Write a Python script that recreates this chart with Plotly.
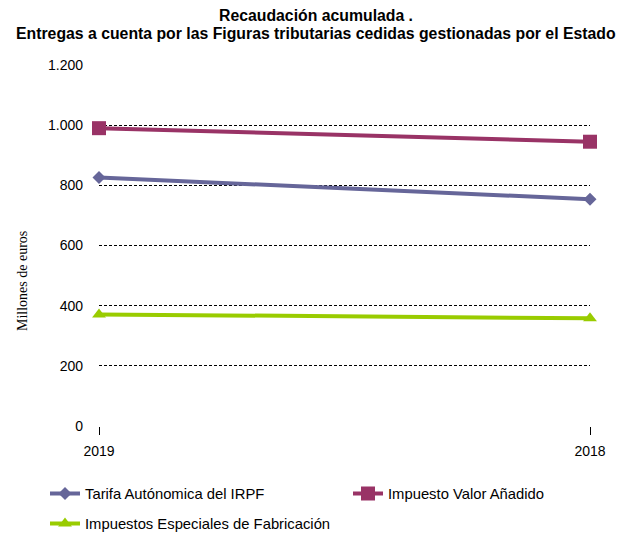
import plotly.graph_objects as go

years = ["2019", "2018"]
irpf = [826, 754]
iva = [990, 945]
ief = [371, 358]
y_ticks = [0, 200, 400, 600, 800, 1000, 1200]

names = ["Tarifa Autónomica del IRPF", "Impuesto Valor Añadido", "Impuestos Especiales de Fabricación"]
colors = ["#666699", "#993366", "#99CC00"]
symbols = ["diamond", "square", "triangle-up"]
sizes = [10, 14, 12]
series = [irpf, iva, ief]
legends = ["legend", "legend2", "legend3"]
title_lines = ["Recaudación acumulada .",
               "Entregas a cuenta por las Figuras tributarias cedidas gestionadas por el Estado"]

fig = go.Figure()
for n, vals, c, s, sz, lg in zip(names, series, colors, symbols, sizes, legends):
    fig.add_trace(go.Scatter(
        x=years, y=vals, name=n, mode="lines+markers",
        line=dict(color=c, width=4),
        marker=dict(symbol=s, size=sz, color=c, line=dict(width=0)),
        cliponaxis=False, legend=lg, showlegend=True,
    ))

# page places the figure 8px in from the top-left corner
OFF = 8
W, H = 624, 537
plot_left, plot_right, plot_top, plot_bottom = 99 - OFF, 590 - OFF, 65 - OFF, 426 - OFF
L, R, T, B = plot_left, W - plot_right, plot_top, H - plot_bottom
pw, ph = W - L - R, H - T - B

def px_x(x):
    return (x - OFF - L) / pw

def px_y(y):
    return (H - B - (y - OFF)) / ph

legfont = dict(family="Liberation Sans, Arial, sans-serif", size=14.8, color="#000000")
annots = [dict(
    text="Millones de euros", textangle=-90, showarrow=False,
    xref="paper", yref="paper", x=px_x(22), y=px_y(281),
    xanchor="center", yanchor="middle",
    font=dict(family="Liberation Serif, Times New Roman, serif", size=14, color="#000000"),
)]
for line, yc in zip(title_lines, [16, 34]):
    annots.append(dict(
        text="<b>" + line + "</b>", showarrow=False,
        xref="paper", yref="paper", x=px_x(316), y=px_y(yc),
        xanchor="center", yanchor="middle",
        font=dict(family="Liberation Sans, Arial, sans-serif", size=15.8, color="#000000"),
    ))

fig.update_layout(
    width=W, height=H,
    margin=dict(l=L, r=R, t=T, b=B, autoexpand=False),
    plot_bgcolor="white", paper_bgcolor="white",
    separators=",.",
    showlegend=True,
    font=dict(family="Liberation Sans, Arial, sans-serif", size=14, color="#000000"),
    xaxis=dict(
        type="category", range=[0, 1], showgrid=False, zeroline=False, showline=False,
        ticks="outside", ticklen=8, tickcolor="#000000", tickwidth=1,
        ticklabelstandoff=4, tickfont=dict(size=14),
    ),
    yaxis=dict(
        range=[0, 1200], tickvals=y_ticks, tickformat=",.0f",
        showgrid=True, gridcolor="#000000", gridwidth=1, griddash="3px,2px",
        zeroline=False, showline=False, ticks="", ticklabelstandoff=15,
        tickfont=dict(size=14),
    ),
    legend=dict(x=px_x(45), y=px_y(494), xanchor="left", yanchor="middle",
                orientation="h", font=legfont, bgcolor="rgba(0,0,0,0)"),
    legend2=dict(x=px_x(348), y=px_y(494), xanchor="left", yanchor="middle",
                 orientation="h", font=legfont, bgcolor="rgba(0,0,0,0)"),
    legend3=dict(x=px_x(45), y=px_y(524), xanchor="left", yanchor="middle",
                 orientation="h", font=legfont, bgcolor="rgba(0,0,0,0)"),
    annotations=annots,
)

fig.write_html("out.html")
